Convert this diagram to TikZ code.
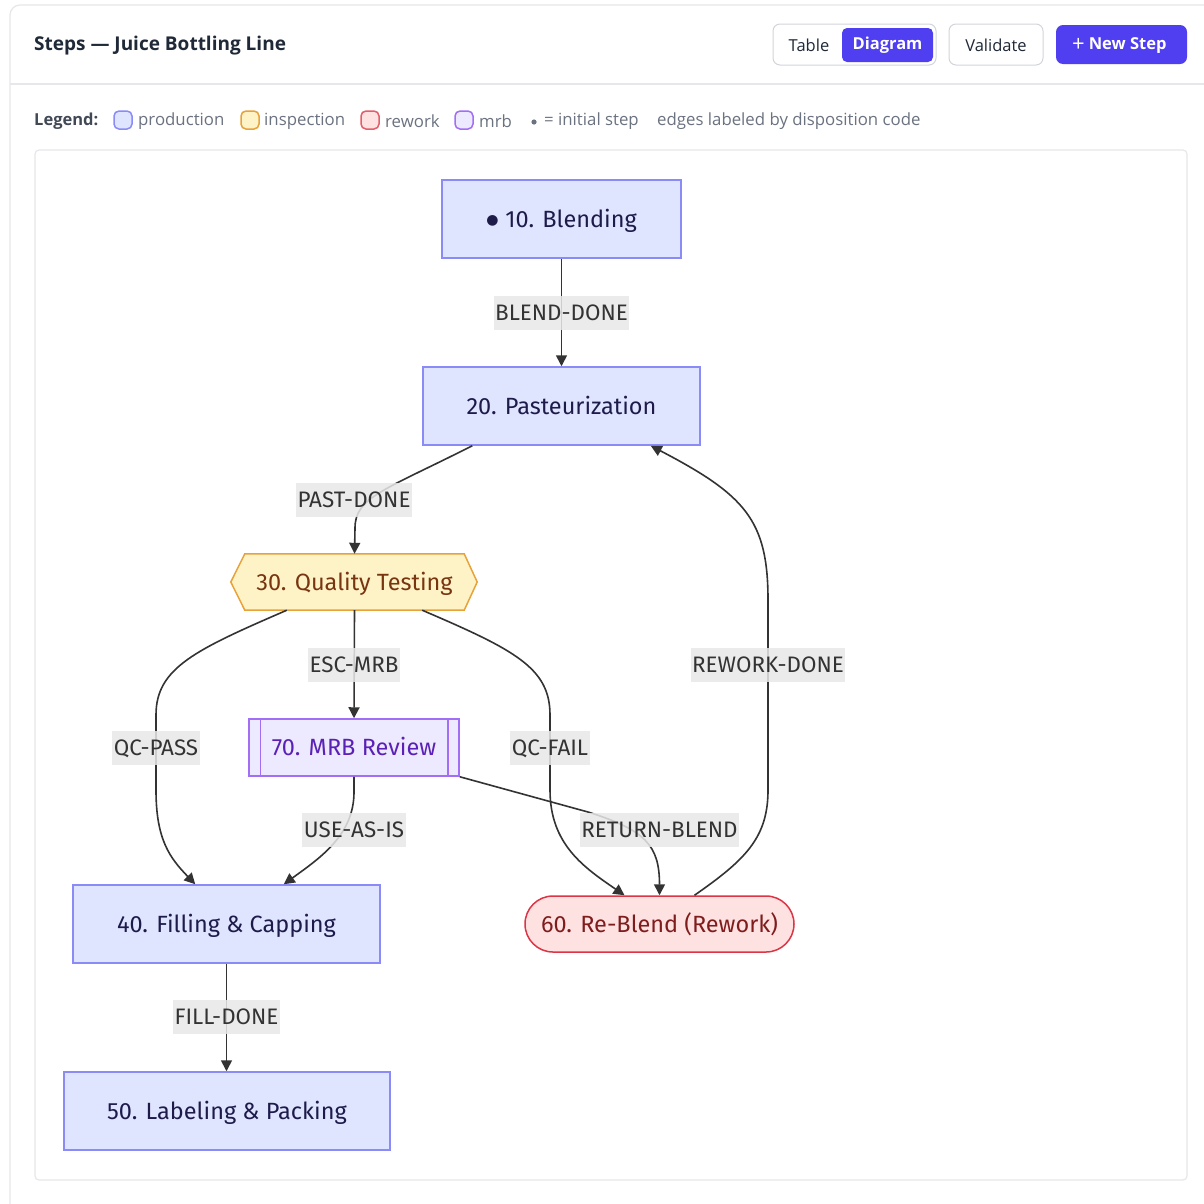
\documentclass[tikz,border=0pt]{standalone}
\usepackage{fontspec}
\setmainfont{Fira Sans}
\newfontfamily\uifont{Open Sans}
\newfontfamily\symfont{DejaVu Sans}
\usetikzlibrary{arrows.meta,backgrounds,calc}
\definecolor{prodfill}{HTML}{E0E5FF}
\definecolor{prodstroke}{HTML}{8B8BF7}
\definecolor{prodtext}{HTML}{1E1B4B}
\definecolor{inspfill}{HTML}{FEF3C7}
\definecolor{inspstroke}{HTML}{E8A23A}
\definecolor{insptext}{HTML}{78350F}
\definecolor{mrbfill}{HTML}{EDE9FE}
\definecolor{mrbstroke}{HTML}{A26EF5}
\definecolor{mrbtext}{HTML}{5B21B6}
\definecolor{rwfill}{HTML}{FEE2E2}
\definecolor{rwstroke}{HTML}{DC3545}
\definecolor{rwtext}{HTML}{7F1D1D}
\definecolor{btnpurple}{HTML}{4F3FF0}
\definecolor{lightline}{HTML}{E5E7EB}
\definecolor{btnline}{HTML}{D1D5DB}
\definecolor{uitext}{HTML}{1F2937}
\definecolor{legtext}{HTML}{6B7280}
\definecolor{edgecol}{HTML}{333333}
\definecolor{lblfill}{HTML}{E8E8E8}
\tikzset{
  nodefont/.style={font=\fontsize{23.5}{27}\selectfont,text height=20pt,text depth=4pt},
  stepbox/.style={draw=prodstroke,fill=prodfill,line width=1.5pt,text=prodtext,nodefont,inner sep=0pt},
  inspbox/.style={draw=none,text=insptext,nodefont,inner sep=0pt,minimum width=219pt,minimum height=56pt},
  mrbbox/.style={draw=mrbstroke,fill=mrbfill,line width=1.5pt,text=mrbtext,nodefont,inner sep=0pt,minimum width=210pt,minimum height=57pt},
  rwbox/.style={draw=rwstroke,fill=rwfill,line width=1.5pt,text=rwtext,nodefont,inner sep=0pt,minimum width=269pt,minimum height=56pt,rounded corners=28pt},
  conn/.style={draw=edgecol,line width=1.6pt,-{Triangle[length=11pt,width=11pt]}},
  elabel/.style={fill=lblfill,fill opacity=0.85,text opacity=1,text=edgecol,font=\fontsize{22.4}{26}\selectfont,text height=19.5pt,text depth=4pt,inner xsep=1.5pt,inner ysep=0pt,minimum height=34pt},
  uibtn/.style={rounded corners=7pt,line width=1pt},
  legsw/.style={rounded corners=5pt,line width=1.5pt,minimum width=18pt,minimum height=18pt,inner sep=0pt},
  legtxt/.style={font=\uifont\fontsize{16.8}{20}\selectfont,text=legtext,inner sep=0pt,anchor=west},
}
\begin{document}
\begin{tikzpicture}[x=1pt,y=-1pt]
\useasboundingbox (0,0) rectangle (1204,1203);
\begin{scope}[on background layer]
\fill[white] (0,0) rectangle (1204,1203);
\end{scope}
% card
\draw[lightline,line width=1.2pt,rounded corners=10pt] (10,1240) -- (10,5) -- (1240,5);
\draw[lightline,line width=1.2pt] (10,84) -- (1204,84);
\node[font=\uifont\bfseries\fontsize{19}{22}\selectfont,text=uitext,anchor=west,inner sep=0pt] (title) at (34,46) {Steps — Juice Bottling Line};
% buttons
\draw[btnline,uibtn,fill=white] (773,24) rectangle (936,65);
\fill[btnpurple,rounded corners=5pt] (842,28) rectangle (933,62);
\node[font=\uifont\fontsize{16.5}{20}\selectfont,text=uitext,inner sep=0pt] (btable) at (809,45) {Table};
\node[font=\uifont\bfseries\fontsize{16.5}{20}\selectfont,text=white,inner sep=0pt] (bdiag) at (887.5,45) {Diagram};
\draw[btnline,uibtn,fill=white] (949,24) rectangle (1043,65);
\node[font=\uifont\fontsize{16.5}{20}\selectfont,text=uitext,inner sep=0pt] (bval) at (996,45) {Validate};
\fill[btnpurple,rounded corners=7pt] (1056,25) rectangle (1187,64);
\node[font=\uifont\fontsize{16.5}{20}\selectfont,text=white,inner sep=0pt,text height=12pt,text depth=4pt,anchor=west] (bnew) at (1072,45) {\raisebox{-2.5pt}{\fontsize{22}{20}\selectfont+}\kern4pt{\bfseries New Step}};
% legend
\node[font=\uifont\bfseries\fontsize{16.5}{20}\selectfont,text=uitext!85,inner sep=0pt,anchor=west] (leg) at (34,121) {Legend:};
\node[legsw,draw=prodstroke,fill=prodfill] (sw1) at (123,120) {};
\node[legtxt] (lt1) at (138,121) {production};
\node[legsw,draw=inspstroke,fill=inspfill] (sw2) at (250,120) {};
\node[legtxt] (lt2) at (264,121) {inspection};
\node[legsw,draw=rwstroke!80,fill=rwfill] (sw3) at (370,120) {};
\node[legtxt] (lt3) at (385,121) {rework};
\node[legsw,draw=mrbstroke,fill=mrbfill] (sw4) at (464,120) {};
\node[legtxt] (lt4) at (479,121) {mrb};
\fill[legtext] (534,122) circle (2.6pt);
\node[legtxt] (lt5) at (544,121) {= initial step};
\node[legtxt] (lt6) at (657,121) {edges labeled by disposition code};
% panel
\draw[lightline,line width=1.2pt,rounded corners=4pt] (35,150) rectangle (1187,1180);
% nodes
\node[stepbox,minimum width=239pt,minimum height=78pt] (n10) at (561.5,219) {\raisebox{2.5pt}{\symfont\fontsize{14}{14}\selectfont●}\kern7pt10. Blending};
\node[stepbox,minimum width=277pt,minimum height=78pt] (n20) at (561.5,406) {20. Pasteurization};
\node[inspbox] (n30) at (354.5,582) {30. Quality Testing};
\begin{scope}[on background layer]
\draw[draw=inspstroke,fill=inspfill,line width=1.5pt] (n30.north west) -- (n30.north east) -- ([xshift=13pt]n30.east) -- (n30.south east) -- (n30.south west) -- ([xshift=-14pt]n30.west) -- cycle;
\end{scope}
\node[mrbbox] (n70) at (354,747.5) {70. MRB Review};
\draw[mrbstroke,line width=1.5pt] ([xshift=12pt]n70.north west) -- ([xshift=12pt]n70.south west);
\draw[mrbstroke,line width=1.5pt] ([xshift=-12pt]n70.north east) -- ([xshift=-12pt]n70.south east);
\node[stepbox,minimum width=307pt,minimum height=78pt] (n40) at (226.5,924) {40. Filling \& Capping};
\node[stepbox,minimum width=326pt,minimum height=78pt] (n50) at (227,1111) {50. Labeling \& Packing};
\node[rwbox] (n60) at (659.5,924) {60. Re-Blend (Rework)};
% edges
\draw[conn] (n10.south) -- (n20.north);
\draw[conn] ([xshift=50pt]n20.south west) .. controls (385,490) and (355,497) .. (355,528) -- (n30.north);
\draw[conn] (n30.south) -- (n70.north);
\draw[conn] ([xshift=42pt]n30.south west) .. controls (195,650) and (156,668) .. (156,715) -- (156,790) .. controls (156,840) and (170,858) .. ([xshift=123pt]n40.north west);
\draw[conn] (n70.south) -- (354,792) .. controls (354,835) and (320,858) .. ([xshift=-97pt]n40.north east);
\draw[conn] ([xshift=-42pt]n30.south east) .. controls (515,650) and (550,668) .. (550,715) -- (550,790) .. controls (550,845) and (585,868) .. ([xshift=-35pt]n60.north);
\draw[conn] (n70.south east) -- (588,812) .. controls (645,830) and (659.5,845) .. (n60.north);
\draw[conn] ([xshift=35pt]n60.north) .. controls (745,860) and (768,838) .. (768,790) -- (768,600) .. controls (768,520) and (745,495) .. ([xshift=-50pt]n20.south east);
\draw[conn] (n40.south) -- (n40.south |- n50.north);
% edge labels
\node[elabel] (l1) at (561.5,313) {BLEND-DONE};
\node[elabel] (l2) at (354,500) {PAST-DONE};
\node[elabel] (l3) at (354,665) {ESC-MRB};
\node[elabel] (l4) at (156,748) {QC-PASS};
\node[elabel] (l5) at (354,830) {USE-AS-IS};
\node[elabel] (l6) at (550,748) {QC-FAIL};
\node[elabel] (l7) at (659.5,830) {RETURN-BLEND};
\node[elabel] (l8) at (768,665) {REWORK-DONE};
\node[elabel] (l9) at (226.5,1017) {FILL-DONE};
\end{tikzpicture}
\end{document}
